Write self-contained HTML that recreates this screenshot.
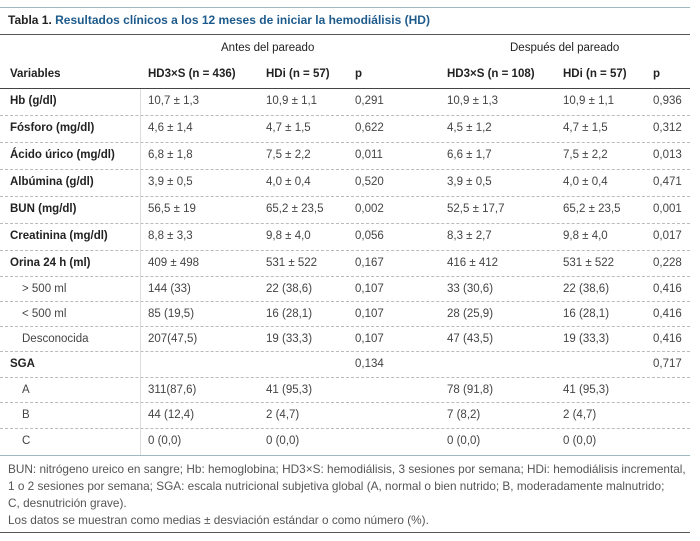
<!DOCTYPE html>
<html><head><meta charset="utf-8"><style>
body{margin:0;width:700px;height:541px;background:#fff;position:relative;overflow:hidden;font-family:"Liberation Sans",sans-serif;}
.a{position:absolute;white-space:nowrap;font-size:11.5px;color:#444;line-height:14px;}
.b{font-weight:bold;color:#222;}
.ln{position:absolute;left:0;width:690px;height:0;}
</style></head><body>
<div class="ln" style="top:7px;border-top:1px solid #9fb8c0"></div>
<div class="a b" style="left:8px;top:13px;font-size:12px;">Tabla 1. <span style="color:#1e5b8c">Resultados clínicos a los 12 meses de iniciar la hemodiálisis (HD)</span></div>
<div class="ln" style="top:34px;border-top:1px solid #555"></div>
<div class="a" style="left:221px;top:41px;color:#222">Antes del pareado</div>
<div class="a" style="left:510px;top:41px;color:#222">Después del pareado</div>
<div id="tbl"></div>
<div class="ln" style="top:88px;border-top:1px solid #444"></div>
<div style="position:absolute;left:140px;top:89px;width:0;height:366px;border-left:1px solid #ddd"></div>
<div class="ln" style="top:455px;border-top:1px solid #9fb8c0"></div>
<div class="a" style="left:8px;top:461px;font-size:11.8px;line-height:17px;color:#555">BUN: nitrógeno ureico en sangre; Hb: hemoglobina; HD3×S: hemodiálisis, 3 sesiones por semana; HDi: hemodiálisis incremental,<br>1 o 2 sesiones por semana; SGA: escala nutricional subjetiva global (A, normal o bien nutrido; B, moderadamente malnutrido;<br>C, desnutrición grave).<br>Los datos se muestran como medias ± desviación estándar o como número (%).</div>
<div class="ln" style="top:532px;border-top:1px solid #555"></div>
<script>
const cols=[10,148,266,355,447,563,653];
const header=["Variables","HD3×S (n = 436)","HDi (n = 57)","p","HD3×S (n = 108)","HDi (n = 57)","p"];
const rows=[
["Hb (g/dl)","10,7 ± 1,3","10,9 ± 1,1","0,291","10,9 ± 1,3","10,9 ± 1,1","0,936",1],
["Fósforo (mg/dl)","4,6 ± 1,4","4,7 ± 1,5","0,622","4,5 ± 1,2","4,7 ± 1,5","0,312",1],
["Ácido úrico (mg/dl)","6,8 ± 1,8","7,5 ± 2,2","0,011","6,6 ± 1,7","7,5 ± 2,2","0,013",1],
["Albúmina (g/dl)","3,9 ± 0,5","4,0 ± 0,4","0,520","3,9 ± 0,5","4,0 ± 0,4","0,471",1],
["BUN (mg/dl)","56,5 ± 19","65,2 ± 23,5","0,002","52,5 ± 17,7","65,2 ± 23,5","0,001",1],
["Creatinina (mg/dl)","8,8 ± 3,3","9,8 ± 4,0","0,056","8,3 ± 2,7","9,8 ± 4,0","0,017",1],
["Orina 24 h (ml)","409 ± 498","531 ± 522","0,167","416 ± 412","531 ± 522","0,228",1],
["> 500 ml","144 (33)","22 (38,6)","0,107","33 (30,6)","22 (38,6)","0,416",0],
["< 500 ml","85 (19,5)","16 (28,1)","0,107","28 (25,9)","16 (28,1)","0,416",0],
["Desconocida","207(47,5)","19 (33,3)","0,107","47 (43,5)","19 (33,3)","0,416",0],
["SGA","","","0,134","","","0,717",1],
["A","311(87,6)","41 (95,3)","","78 (91,8)","41 (95,3)","",0],
["B","44 (12,4)","2 (4,7)","","7 (8,2)","2 (4,7)","",0],
["C","0 (0,0)","0 (0,0)","","0 (0,0)","0 (0,0)","",0]];
const tops=[94,121,148,175,202,229,256,282,307,332,357,383,408,434];
const seps=[115,142,169,196,223,250,276,301,326,351,377,402,428];
const t=document.getElementById('tbl');
header.forEach((h,i)=>{const d=document.createElement('div');d.className='a b';d.style.left=cols[i]+'px';d.style.top='67px';d.textContent=h;


t.appendChild(d);});
rows.forEach((r,ri)=>{for(let i=0;i<7;i++){if(!r[i])continue;const d=document.createElement('div');d.className='a'+(i==0&&r[7]?' b':'');
let x=cols[i];if(i==0&&!r[7])x=22;d.style.left=x+'px';d.style.top=tops[ri]+'px';d.textContent=r[i];


t.appendChild(d);}});
seps.forEach(y=>{const l=document.createElement('div');l.className='ln';l.style.top=y+'px';l.style.borderTop='1px dashed #bbb';


t.appendChild(l);});
</script>
</body></html>
